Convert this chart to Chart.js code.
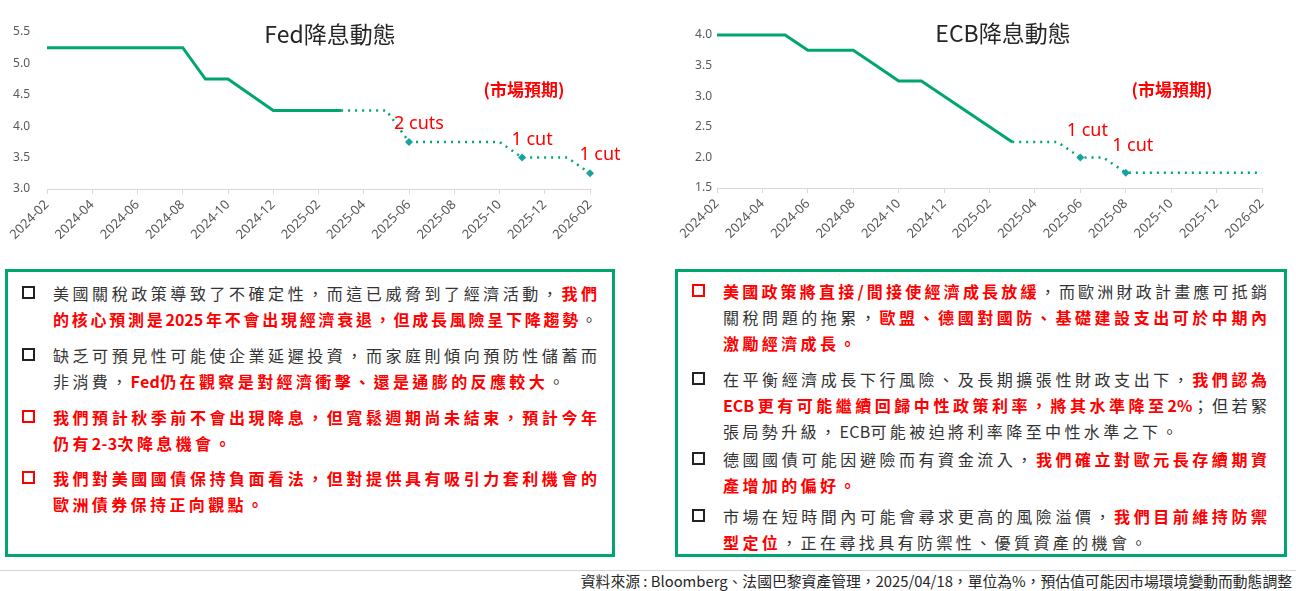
<!DOCTYPE html>
<html>
<head>
<meta charset="utf-8">
<script src="https://cdn.jsdelivr.net/npm/chart.js@4.4.1/dist/chart.umd.min.js"></script>
<style>
  body { margin: 0; width: 1296px; height: 591px; position: relative; background: #fff; overflow: hidden;
         font-family: "Noto Sans CJK TC", "Noto Sans", sans-serif; }
  .cw { position: absolute; top: 0; height: 260px; }
  .title { position: absolute; font-size: 23px; color: #262626; transform: translate(-50%, -50%);
           white-space: nowrap; line-height: 1; }
  .mkt { position: absolute; font-size: 17px; font-weight: bold; color: #ff0000; transform: translate(-50%, -50%);
         white-space: nowrap; line-height: 1; }
  .box { position: absolute; top: 269px; height: 288px; border: 3px solid #00a66e; box-sizing: border-box; }
  .p { position: relative; padding-left: 45px; }
  .p::before { content: ""; position: absolute; left: 14px; top: 6px; width: 13px; height: 13px;
               border: 2.6px solid #222; box-sizing: border-box; }
  .p.rb::before { border-color: #ff0000; }
  .ln { width: 544px; height: 26px; line-height: 26px; font-size: 16px; letter-spacing: 3.4px; color: #333; white-space: nowrap; }
  .ln.full { letter-spacing: 0; text-align: justify; text-align-last: justify; white-space: normal; }
  .lt { letter-spacing: 0.3px; }
  .r { color: #ff0000; font-weight: bold; }
  .rule { position: absolute; left: 0; top: 570px; width: 1296px; height: 1px; background: #d4d4d4; }
  .src { position: absolute; right: 4px; top: 571px; font-size: 14.8px; line-height: 20px; color: #262626; white-space: nowrap; }
</style>
</head>
<body>

<div class="cw" style="left:0;width:640px"><canvas id="fedChart"></canvas></div>
<div class="cw" style="left:660px;width:636px"><canvas id="ecbChart"></canvas></div>

<div class="title" style="left:330px;top:33px">Fed降息動態</div>
<div class="title" style="left:1003px;top:32px">ECB降息動態</div>
<div class="mkt" style="left:524px;top:88px">(市場預期)</div>
<div class="mkt" style="left:1172px;top:88px">(市場預期)</div>

<div class="box" style="left:5px;width:610px;padding-top:8px">
  <div class="p">
    <div class="ln full">美國關稅政策導致了不確定性，而這已威脅到了經濟活動，<span class="r">我們</span></div>
    <div class="ln full"><span class="r">的核心預測是2025年不會出現經濟衰退，但成長風險呈下降趨勢</span>。</div>
  </div>
  <div class="p" style="margin-top:10px">
    <div class="ln full">缺乏可預見性可能使企業延遲投資，而家庭則傾向預防性儲蓄而</div>
    <div class="ln">非消費，<span class="r"><span class="lt">Fed</span>仍在觀察是對經濟衝擊、還是通膨的反應較大</span>。</div>
  </div>
  <div class="p rb" style="margin-top:10px">
    <div class="ln full"><span class="r">我們預計秋季前不會出現降息，但寬鬆週期尚未結束，預計今年</span></div>
    <div class="ln"><span class="r">仍有<span class="lt">2-3</span>次降息機會。</span></div>
  </div>
  <div class="p rb" style="margin-top:9px">
    <div class="ln full"><span class="r">我們對美國國債保持負面看法，但對提供具有吸引力套利機會的</span></div>
    <div class="ln"><span class="r">歐洲債券保持正向觀點。</span></div>
  </div>
</div>

<div class="box" style="left:675px;width:612px;padding-top:6px">
  <div class="p rb">
    <div class="ln full"><span class="r">美國政策將直接/間接使經濟成長放緩</span>，而歐洲財政計畫應可抵銷</div>
    <div class="ln full">關稅問題的拖累，<span class="r">歐盟、德國對國防、基礎建設支出可於中期內</span></div>
    <div class="ln"><span class="r">激勵經濟成長。</span></div>
  </div>
  <div class="p" style="margin-top:10px">
    <div class="ln full">在平衡經濟成長下行風險、及長期擴張性財政支出下，<span class="r">我們認為</span></div>
    <div class="ln full"><span class="r">ECB更有可能繼續回歸中性政策利率，將其水準降至2%</span>；但若緊</div>
    <div class="ln">張局勢升級，<span class="lt">ECB</span>可能被迫將利率降至中性水準之下。</div>
  </div>
  <div class="p" style="margin-top:2px">
    <div class="ln full">德國國債可能因避險而有資金流入，<span class="r">我們確立對歐元長存續期資</span></div>
    <div class="ln"><span class="r">產增加的偏好。</span></div>
  </div>
  <div class="p" style="margin-top:5px">
    <div class="ln full">市場在短時間內可能會尋求更高的風險溢價，<span class="r">我們目前維持防禦</span></div>
    <div class="ln"><span class="r">型定位</span>，正在尋找具有防禦性、優質資產的機會。</div>
  </div>
</div>

<div class="rule"></div>
<div class="src">資料來源 : Bloomberg、法國巴黎資產管理，2025/04/18，單位為%，預估值可能因市場環境變動而動態調整</div>

<script>
// monthly axis, 2024-02 .. 2026-02
var months = ['2024-02','2024-03','2024-04','2024-05','2024-06','2024-07','2024-08','2024-09','2024-10',
              '2024-11','2024-12','2025-01','2025-02','2025-03','2025-04','2025-05','2025-06','2025-07',
              '2025-08','2025-09','2025-10','2025-11','2025-12','2026-01','2026-02'];

// Fed policy rate (upper bound), actual then market expectation
var fedActual   = [5.25,5.25,5.25,5.25,5.25,5.25,5.25,4.75,4.75,4.5,4.25,4.25,4.25,4.25,
                   null,null,null,null,null,null,null,null,null,null,null];
var fedForecast = [null,null,null,null,null,null,null,null,null,null,null,null,null,
                   4.25,4.25,4.25,3.75,3.75,3.75,3.75,3.75,3.5,3.5,3.5,3.25];

// ECB deposit rate
var ecbActual   = [4.0,4.0,4.0,4.0,3.75,3.75,3.75,3.5,3.25,3.25,3.0,2.75,2.5,2.25,
                   null,null,null,null,null,null,null,null,null,null,null];
var ecbForecast = [null,null,null,null,null,null,null,null,null,null,null,null,null,
                   2.25,2.25,2.25,2.0,2.0,1.75,1.75,1.75,1.75,1.75,1.75,1.75];

var fedTicks = [3.0, 5.5];
var ecbTicks = [1.5, 4.0];

var GREEN = '#00a66e';
var TEAL = '#17a3a0';
var CUT = 0.25;

// marker wherever the expected path steps down
function isCut(ctx) {
    var d = ctx.dataset.data, i = ctx.dataIndex;
    return i > 0 && d[i - 1] != null && d[i] != null && d[i] < d[i - 1];
}

var cutLabels = {
    id: 'cutLabels',
    afterDatasetsDraw: function(chart, args, opts) {
        var data = chart.data.datasets[1].data;
        var meta = chart.getDatasetMeta(1);
        var ctx = chart.ctx;
        ctx.save();
        ctx.font = '18px "Noto Sans"';
        ctx.fillStyle = '#ff0000';
        ctx.textAlign = 'center';
        ctx.textBaseline = 'middle';
        for (var i = 1; i < data.length; i++) {
            if (data[i - 1] == null || data[i] == null || data[i] >= data[i - 1]) continue;
            var n = Math.round((data[i - 1] - data[i]) / CUT);
            var pt = meta.data[i];
            ctx.fillText(n + (n > 1 ? ' cuts' : ' cut'), pt.x + opts.dx, pt.y + opts.dy);
        }
        ctx.restore();
    }
};

function makeChart(id, actual, forecast, range, cfg) {
    return new Chart(document.getElementById(id), {
        type: 'line',
        data: {
            labels: months,
            datasets: [{
                data: actual,
                borderColor: GREEN,
                borderWidth: 3,
                pointRadius: 0,
                tension: 0,
                clip: false
            }, {
                data: forecast,
                borderColor: GREEN,
                borderWidth: 2.5,
                borderDash: [2, 5],
                pointStyle: 'rectRot',
                pointRadius: function(ctx) { return isCut(ctx) ? 4 : 0; },
                pointBackgroundColor: TEAL,
                pointBorderColor: TEAL,
                pointBorderWidth: 0,
                tension: 0,
                clip: false
            }]
        },
        options: {
            responsive: true,
            maintainAspectRatio: false,
            animation: false,
            layout: { padding: { top: cfg.top, right: cfg.right, left: 0, bottom: 0 } },
            plugins: {
                legend: { display: false },
                tooltip: { enabled: false },
                cutLabels: { dx: cfg.dx, dy: cfg.dy }
            },
            scales: {
                x: {
                    grid: { display: true, drawOnChartArea: false, drawTicks: true, tickLength: 5, color: '#d9d9d9' },
                    border: { display: true, color: '#d9d9d9', width: 1 },
                    ticks: {
                        autoSkip: false,
                        minRotation: 45,
                        maxRotation: 45,
                        color: '#595959',
                        font: { family: 'Noto Sans', size: 13 },
                        callback: function(v, i) { return i % 2 === 0 ? months[i] : null; }
                    },
                    afterFit: function(scale) { scale.height = cfg.xHeight; }
                },
                y: {
                    min: range[0],
                    max: range[1],
                    grid: { display: false, drawTicks: false },
                    border: { display: false },
                    ticks: {
                        stepSize: 0.5,
                        padding: cfg.yPad,
                        color: '#595959',
                        font: { family: 'Noto Sans', size: 12 },
                        callback: function(v) { return v.toFixed(1); }
                    },
                    afterFit: function(scale) { scale.width = cfg.yWidth; }
                }
            }
        },
        plugins: [cutLabels]
    });
}

makeChart('fedChart', fedActual, fedForecast, fedTicks,
    { top: 32, right: 50, xHeight: 71, yWidth: 47, yPad: 17, dx: 10, dy: -18 });
makeChart('ecbChart', ecbActual, ecbForecast, ecbTicks,
    { top: 35, right: 34, xHeight: 72, yWidth: 57, yPad: 5, dx: 7, dy: -27 });
</script>
</body>
</html>
